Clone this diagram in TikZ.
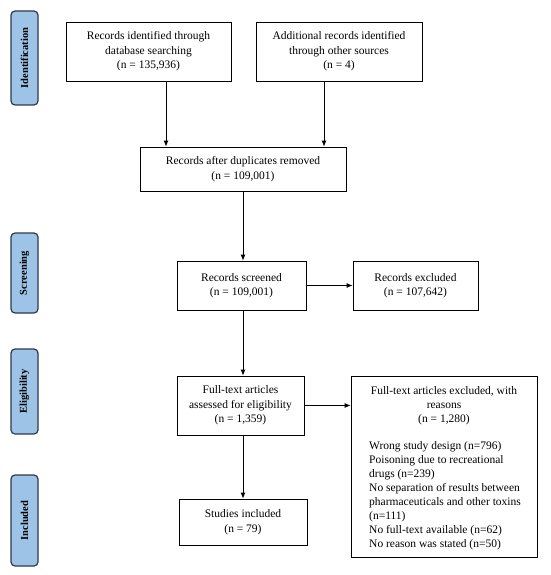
\documentclass[tikz,border=0pt]{standalone}
\usepackage{fontspec}
\setmainfont{Liberation Serif}
\usetikzlibrary{arrows.meta}
\definecolor{sidefill}{HTML}{9DC3E6}
\definecolor{sidedraw}{HTML}{2E3A4A}
\begin{document}
\begin{tikzpicture}[x=1pt,y=-1pt,
  box/.style={draw=black,line width=0.8pt,align=center,inner sep=0pt,
    font=\fontsize{11.5}{14.5}\selectfont},
  side/.style={draw=sidedraw,fill=sidefill,line width=1.2pt,rounded corners=4pt,
    minimum width=27pt,inner sep=0pt},
  sidetext/.style={rotate=90,font=\fontsize{10.5}{12}\bfseries},
  arr/.style={-{Latex[length=6pt,width=5pt]},line width=0.8pt},
  txt/.style={inner sep=0pt,font=\fontsize{11.5}{14}\selectfont}]
\useasboundingbox (0,0) rectangle (550,575);
% side labels
\node[side,minimum height=94pt] (s1) at (24.5,58) {};
\node[sidetext] (s1t) at (s1.center) {Identification};
\node[side,minimum height=80pt] (s2) at (24.5,273) {};
\node[sidetext] (s2t) at (s2.center) {Screening};
\node[side,minimum height=85pt] (s3) at (24.5,391.5) {};
\node[sidetext] (s3t) at (s3.center) {Eligibility};
\node[side,minimum height=91pt] (s4) at (24.5,520.5) {};
\node[sidetext] (s4t) at (s4.center) {Included};
% boxes
\node[box,minimum width=165pt,minimum height=59pt] (b1) at (148.5,51.5)
  {Records identified through\\database searching\\(n = 135,936)};
\node[box,minimum width=166pt,minimum height=59pt] (b2) at (339,51.5)
  {Additional records identified\\through other sources\\(n = 4)};
\node[box,minimum width=206pt,minimum height=44pt] (b3) at (243,169)
  {Records after duplicates removed\\(n = 109,001)};
\node[box,minimum width=129pt,minimum height=49pt] (b4) at (241.5,285.5)
  {Records screened\\(n = 109,001)};
\node[box,minimum width=125pt,minimum height=49pt] (b5) at (415.5,285.5)
  {Records excluded\\(n = 107,642)};
\node[box,minimum width=127pt,minimum height=59pt] (b6) at (240.5,405.5)
  {Full-text articles\\assessed for eligibility\\(n = 1,359)};
\node[box,minimum width=186pt,minimum height=181pt] (b7) at (444,466.5) {};
\node[txt,align=center,anchor=north] (b7h) at (444,386)
  {Full-text articles excluded, with\\reasons\\(n = 1,280)};
\node[txt,align=left,anchor=north west] (b7l) at (369,441)
  {Wrong study design (n=796)\\Poisoning due to recreational\\drugs (n=239)\\No separation of results between\\pharmaceuticals and other toxins\\(n=111)\\No full-text available (n=62)\\No reason was stated (n=50)};
\node[box,minimum width=128pt,minimum height=46pt] (b8) at (243,522)
  {Studies included\\(n = 79)};
% arrows
\coordinate (c1) at (166,0);
\coordinate (c2) at (324,0);
\coordinate (c3) at (243,0);
\draw[arr] (c1 |- b1.south) -- (c1 |- b3.north);
\draw[arr] (c2 |- b2.south) -- (c2 |- b3.north);
\draw[arr] (c3 |- b3.south) -- (c3 |- b4.north);
\draw[arr] (b4.east) -- (b5.west);
\draw[arr] (c3 |- b4.south) -- (c3 |- b6.north);
\draw[arr] (b6.east) -- (b6.east -| b7.west);
\draw[arr] (c3 |- b6.south) -- (c3 |- b8.north);
\end{tikzpicture}
\end{document}
